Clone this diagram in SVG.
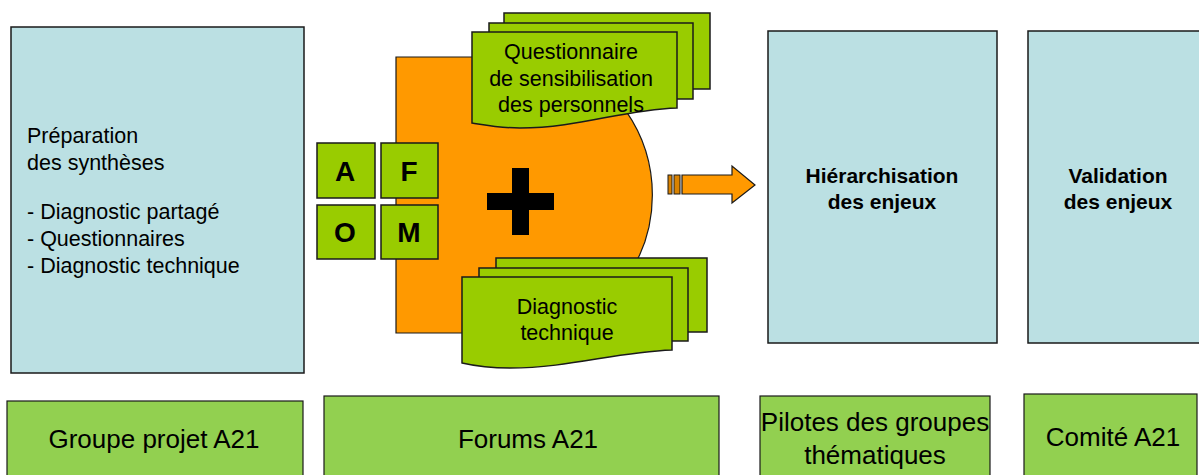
<svg xmlns="http://www.w3.org/2000/svg" width="1199" height="475" viewBox="0 0 1199 475">
  <style>
    .blue { fill: #BBE0E3; stroke: #1a1a1a; stroke-width: 1.5; }
    .role { fill: #92D050; stroke: #1a1a1a; stroke-width: 1.2; }
    .card { fill: #99CC00; stroke: #1a1a1a; stroke-width: 1.5; }
    .orange { fill: #FF9900; stroke: #1a1a1a; stroke-width: 1.2; }
    .t { font-family: "Liberation Sans", Arial, sans-serif; fill: #000; }
    .body { font-size: 21.5px; }
    .bold { font-size: 21px; font-weight: bold; }
    .letter { font-size: 28px; font-weight: bold; }
    .role-t { font-size: 26px; }
  </style>

  <!-- left column: preparation of the syntheses -->
  <g id="preparation">
    <rect class="blue" x="11" y="27" width="293" height="346"/>
    <text class="t body" x="27" y="143">Préparation</text>
    <text class="t body" x="27" y="170">des synthèses</text>
    <text class="t body" x="27" y="219">- Diagnostic partagé</text>
    <text class="t body" x="27" y="246">- Questionnaires</text>
    <text class="t body" x="27" y="273">- Diagnostic technique</text>
  </g>

  <!-- central orange block with a rounded right side -->
  <g id="synthese">
    <path class="orange" d="M396,57 H556 A147,147 0 0 1 556,333 H396 Z"/>
    <path fill="#000" d="M512,168 H529 V193 H554 V210 H529 V235 H512 V210 H487 V193 H512 Z"/>
  </g>

  <!-- questionnaire document stack -->
  <g id="questionnaire">
    <rect class="card" x="504" y="13" width="206" height="76"/>
    <rect class="card" x="489" y="23" width="204" height="76"/>
    <path class="card" d="M472,32 H677 V108 C620,110 580,128 520,128 C500,128 485,125 472,123 Z"/>
    <text class="t body" text-anchor="middle" x="571" y="59">Questionnaire</text>
    <text class="t body" text-anchor="middle" x="571" y="86">de sensibilisation</text>
    <text class="t body" text-anchor="middle" x="571" y="112">des personnels</text>
  </g>

  <!-- technical diagnosis document stack -->
  <g id="diagnostic">
    <rect class="card" x="496" y="258" width="211" height="74"/>
    <rect class="card" x="479" y="268" width="209" height="73"/>
    <path class="card" d="M462,277 H672 V350 C615,352 570,368 510,368 C490,368 475,366 462,363 Z"/>
    <text class="t body" text-anchor="middle" x="567" y="314">Diagnostic</text>
    <text class="t body" text-anchor="middle" x="567" y="340">technique</text>
  </g>

  <!-- AFOM grid -->
  <g id="afom">
    <rect class="card" x="317" y="143" width="58" height="55"/>
    <rect class="card" x="381" y="143" width="57" height="55"/>
    <rect class="card" x="317" y="205" width="58" height="54"/>
    <rect class="card" x="381" y="205" width="57" height="54"/>
    <text class="t letter" text-anchor="middle" x="345" y="181">A</text>
    <text class="t letter" text-anchor="middle" x="409" y="181">F</text>
    <text class="t letter" text-anchor="middle" x="345" y="242">O</text>
    <text class="t letter" text-anchor="middle" x="409" y="242">M</text>
  </g>

  <!-- ranking and validation of the issues -->
  <g id="hierarchisation">
    <rect class="blue" x="768" y="31" width="229" height="312"/>
    <text class="t bold" text-anchor="middle" x="882" y="183">Hiérarchisation</text>
    <text class="t bold" text-anchor="middle" x="882" y="209">des enjeux</text>
  </g>
  <g id="validation">
    <rect class="blue" x="1028" y="31" width="190" height="312"/>
    <text class="t bold" text-anchor="middle" x="1118" y="183">Validation</text>
    <text class="t bold" text-anchor="middle" x="1118" y="209">des enjeux</text>
  </g>

  <!-- striped block arrow -->
  <g id="connectors">
    <rect x="668" y="175" width="4" height="19" fill="#D98200" stroke="#1a1a1a" stroke-width="1"/>
    <rect x="674" y="175" width="6" height="19" fill="#D98200" stroke="#1a1a1a" stroke-width="1"/>
    <path class="orange" d="M682,175 H732 V166 L755,185 L732,203 V194 H682 Z"/>
  </g>

  <!-- actors row -->
  <g id="groupe-projet">
    <rect class="role" x="7" y="401" width="296" height="90"/>
    <text class="t role-t" text-anchor="middle" x="154" y="448">Groupe projet A21</text>
  </g>
  <g id="forums">
    <rect class="role" x="324" y="396" width="395" height="95"/>
    <text class="t role-t" text-anchor="middle" x="528" y="448">Forums A21</text>
  </g>
  <g id="pilotes">
    <rect class="role" x="760" y="396" width="230" height="95"/>
    <text class="t role-t" text-anchor="middle" x="875" y="431">Pilotes des groupes</text>
    <text class="t role-t" text-anchor="middle" x="875" y="464">thématiques</text>
  </g>
  <g id="comite">
    <rect class="role" x="1024" y="394" width="173" height="97"/>
    <text class="t role-t" text-anchor="middle" x="1113" y="446">Comité A21</text>
  </g>
</svg>
